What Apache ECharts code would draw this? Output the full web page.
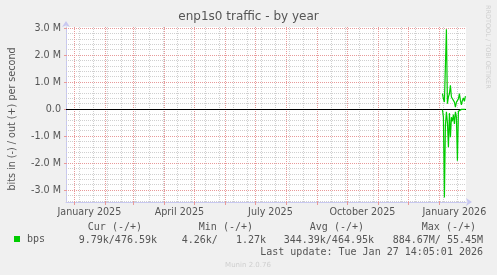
<!DOCTYPE html>
<html><head><meta charset="utf-8">
<script src="https://cdn.jsdelivr.net/npm/echarts@6/dist/echarts.min.js"></script>
<style>html,body{margin:0;padding:0;background:#F0F0F0;}#c{width:497px;height:275px;}</style>
</head><body><div id="c"></div>
<script>
// ---- data (bits per second, daily averages) ----
const dates = ['2026-01-04','2026-01-05','2026-01-06','2026-01-07','2026-01-08','2026-01-09','2026-01-10','2026-01-11',
  '2026-01-12','2026-01-13','2026-01-14','2026-01-15','2026-01-16','2026-01-17','2026-01-18','2026-01-19',
  '2026-01-20','2026-01-21','2026-01-22','2026-01-23','2026-01-24','2026-01-25','2026-01-26','2026-01-27'];
const outBps = [570e3,380e3,260e3,320e3,2960e3,200e3,450e3,570e3,880e3,450e3,380e3,510e3,
  260e3,70e3,260e3,200e3,380e3,570e3,320e3,160e3,320e3,410e3,290e3,480e3];
const inBps = [20e3,300e3,3270e3,600e3,100e3,500e3,1410e3,150e3,1040e3,300e3,450e3,200e3,
  550e3,100e3,300e3,1910e3,80e3,10e3,10e3,10e3,10e3,10e3,10e3,10e3];
const yTicks = [-3e6,-2e6,-1e6,0,1e6,2e6,3e6];
const xLabels = ['January 2025','April 2025','July 2025','October 2025','January 2026'];
const legendHeaders = ['Cur (-/+)','Min (-/+)','Avg (-/+)','Max (-/+)'];
const legendValues = ['9.79k/476.59k','4.26k/   1.27k','344.39k/464.95k','884.67M/ 55.45M'];
const lastUpdate = 'Last update: Tue Jan 27 14:05:01 2026';

// ---- axis extents / grid positions ----
const DAY = 86400000;
const xMin = Date.UTC(2024,11,23,14,5), xMax = Date.UTC(2026,0,27,14,5);
const ts = d => { const p = d.split('-').map(Number); return Date.UTC(p[0], p[1]-1, p[2]); };
const monthStarts = [];
for (let y = 2025, m = 0; y < 2026 || m <= 0; ) { monthStarts.push(Date.UTC(y, m, 1)); m++; if (m > 11) { m = 0; y++; } }
const labelPos = [Date.UTC(2025,0,16), Date.UTC(2025,3,16), Date.UTC(2025,6,16), Date.UTC(2025,9,16), Date.UTC(2026,0,16)];
const minorX = [];
for (let t = Date.UTC(2025,0,6); t < xMax; t += 14*DAY) minorX.push(t);
const minorY = [], majorY = [];
for (let k = -17; k <= 15; k++) { const v = k*2e5; if (k % 5 === 0) { if (k !== 0) majorY.push(v); } else minorY.push(v); }

const outData = dates.map((d,i) => [ts(d), outBps[i]]);
const inData = dates.map((d,i) => [ts(d), -inBps[i]]);

const ml = (arr, key, color, dashed) => ({silent:true, symbol:'none', label:{show:false}, animation:false,
  lineStyle:{color:color, width:1, type: dashed ? [1,1] : 'solid'}, emphasis:{disabled:true},
  data: arr.map(v => ({[key]: v}))});

const font = 'DejaVu Sans';
const mono = 'DejaVu Sans Mono';
const chart = echarts.init(document.getElementById('c'), null, {renderer:'canvas'});
const fieldEnds = [142, 253, 364, 476];
const valueEnds = [157, 266, 374, 483];
const graphics = [];
legendHeaders.forEach((h,i) => graphics.push({type:'text', x:fieldEnds[i], y:227, style:{text:h, fill:'#555', font:'10px "'+mono+'"', textAlign:'right', textVerticalAlign:'middle'}}));
legendValues.forEach((h,i) => graphics.push({type:'text', x:valueEnds[i], y:240, style:{text:h, fill:'#555', font:'10px "'+mono+'"', textAlign:'right', textVerticalAlign:'middle'}}));
graphics.push({type:'text', x:483, y:252, style:{text:lastUpdate, fill:'#555', font:'10px "'+mono+'"', textAlign:'right', textVerticalAlign:'middle'}});
graphics.push({type:'text', x:248, y:265, style:{text:'Munin 2.0.76', fill:'#CFCFCF', font:'7px "'+font+'"', textAlign:'center', textVerticalAlign:'middle'}});
graphics.push({type:'text', x:488, y:5, rotation:-Math.PI/2, style:{text:'RRDTOOL / TOBI OETIKER', fill:'#CFCFCF', font:'6.5px "'+font+'"', textAlign:'left', textVerticalAlign:'middle'}});
graphics.push({type:'text', x:12, y:119, rotation:Math.PI/2, style:{text:'bits in (-) / out (+) per second', fill:'#555', font:'9.6px "'+font+'"', textAlign:'center', textVerticalAlign:'middle'}});

chart.setOption({
  backgroundColor:'#F0F0F0',
  animation:false,
  title:{text:'enp1s0 traffic - by year', left:'center', top:11, padding:0,
    textStyle:{fontFamily:font, fontSize:12, fontWeight:'normal', color:'#555'}},
  legend:{left:14, top:234, padding:0, icon:'rect', itemWidth:6, itemHeight:6, data:['bps'], selectedMode:false,
    textStyle:{fontFamily:mono, fontSize:10, color:'#555', padding:[0,0,0,2]}},
  grid:{left:66, top:27, width:400, height:175, show:true, backgroundColor:'#FFFFFF', borderWidth:0},
  xAxis:{type:'value', min:xMin, max:xMax, splitLine:{show:false},
    axisLine:{onZero:false, lineStyle:{color:'#C8C8F0'}, symbol:['none','arrow'], symbolSize:[6,6], symbolOffset:[0,6]},
    axisTick:{customValues:monthStarts, length:3, lineStyle:{color:'#E89A9A'}},
    axisLabel:{customValues:labelPos, margin:5, color:'#555', fontFamily:font, fontSize:9.6,
      formatter:v => xLabels[labelPos.indexOf(v)] || ''}},
  yAxis:{type:'value', min:-3.44e6, max:3.04e6, splitLine:{show:false},
    axisLine:{show:true, lineStyle:{color:'#C8C8F0'}, symbol:['none','arrow'], symbolSize:[6,6], symbolOffset:[0,6]},
    axisTick:{customValues:yTicks, length:2, lineStyle:{color:'#E89A9A'}},
    axisLabel:{customValues:yTicks, margin:5, color:'#555', fontFamily:font, fontSize:9.6,
      formatter:v => v === 0 ? '0.0' : (v/1e6).toFixed(1)+' M'}},
  graphic:graphics,
  series:[
    {type:'line', name:'grid', data:[], silent:true, markLine:ml(minorX,'xAxis','#D0D0D0',true)},
    {type:'line', name:'grid2', data:[], silent:true, markLine:ml(minorY,'yAxis','#D0D0D0',true)},
    {type:'line', name:'grid3', data:[], silent:true, markLine:ml(monthStarts,'xAxis','#E89A9A',true)},
    {type:'line', name:'grid4', data:[], silent:true, markLine:ml(majorY,'yAxis','#E89A9A',true)},
    {type:'line', name:'zero', data:[], silent:true, zlevel:1, markLine:ml([0],'yAxis','#000000',false)},
    {type:'line', name:'bps', data:inData, zlevel:1, showSymbol:false, color:'#00CC00', lineStyle:{width:1.2, color:'#00CC00', type:'solid'}},
    {type:'line', name:'bps', data:outData, zlevel:1, showSymbol:false, color:'#00CC00', lineStyle:{width:1.2, color:'#00CC00', type:'solid'}}
  ]
});
</script></body></html>
